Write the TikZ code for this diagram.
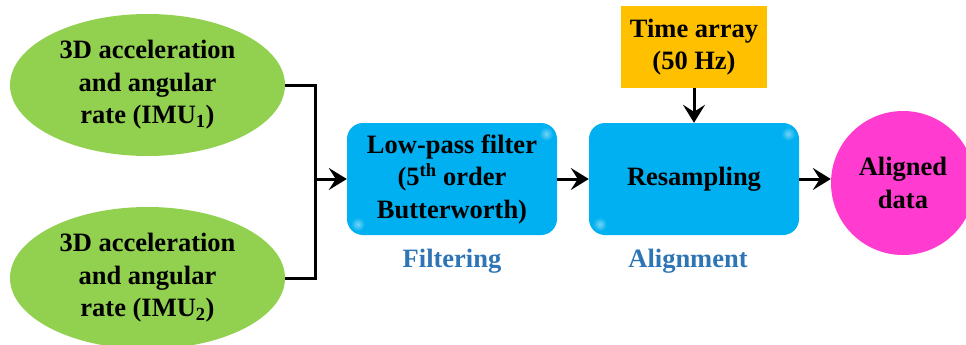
\documentclass[tikz,border=0pt]{standalone}
\usepackage{fontspec}
\setmainfont{Liberation Serif}
\usetikzlibrary{arrows.meta,shapes.geometric}
\definecolor{imugreen}{HTML}{92D050}
\definecolor{procblue}{HTML}{00B0F0}
\definecolor{timeorange}{HTML}{FFC000}
\definecolor{outpink}{HTML}{FF3CCF}
\definecolor{stagelabel}{HTML}{2E75B6}
\tikzset{
  txt/.style={font=\bfseries\fontsize{26.5}{32.5}\selectfont, align=center, text=black},
  imu/.style={txt, ellipse, fill=imugreen, minimum width=275pt, minimum height=142pt, inner sep=0pt},
  proc/.style={txt, rectangle, rounded corners=16pt, fill=procblue, minimum width=210pt, minimum height=112pt, inner sep=0pt},
  timebox/.style={txt, rectangle, fill=timeorange, minimum width=146pt, minimum height=81pt, inner sep=0pt},
  outcircle/.style={txt, circle, fill=outpink, minimum size=144pt, inner sep=0pt},
  stage/.style={font=\bfseries\fontsize{26.5}{32}\selectfont, text=stagelabel},
  glint/.style={inner color=white!45!procblue, outer color=procblue},
  wire/.style={line width=3pt, line join=miter},
  flow/.style={line width=3pt, -{Stealth[length=18pt,width=22pt,inset=7pt]}},
}
\begin{document}
\begin{tikzpicture}[x=1pt,y=-1pt]
\useasboundingbox (0,0) rectangle (966,345);
\clip (0,0) rectangle (966,345);

% sensor inputs
\node[imu] (imuA) at (147.5,85) {3D acceleration\\and angular\\rate (IMU\textsubscript{1})};
\node[imu] (imuB) at (147.5,278) {3D acceleration\\and angular\\rate (IMU\textsubscript{2})};

% processing chain
\node[proc] (lpf) at (452,179) {};
\node[proc] (res) at (694,179) {};

% soft glints on the rounded corners of the process boxes
\foreach \b in {lpf,res}{
  \shade[glint] ([xshift=-11pt,yshift=-11pt]\b.north east) circle[radius=7pt];
  \shade[glint] ([xshift=11pt,yshift=11pt]\b.south west) circle[radius=7pt];
}
\node[txt] (lpftxt) at (lpf.center) {Low-pass filter\\(5\textsuperscript{th} order\\Butterworth)};
\node[txt] (restxt) at (res.center) {Resampling};

\node[timebox] (time) at (694,47) {Time array\\(50 Hz)};
\node[outcircle] (out) at (903,183) {Aligned\\data};

% stage captions
\node[stage] (filt) at (452,261) {Filtering};
\node[stage] (align) at (688,261) {Alignment};

% connectors
\coordinate (join) at (315,179);
\draw[wire] (imuA.east) -| (join) |- (imuB.east);
\draw[flow] (join) -- (lpf.west);
\draw[flow] (lpf.east) -- (res.west);
\draw[flow] (time.south) -- (res.north);
\draw[flow] (res.east) -- (res.east -| out.west);
\end{tikzpicture}
\end{document}
